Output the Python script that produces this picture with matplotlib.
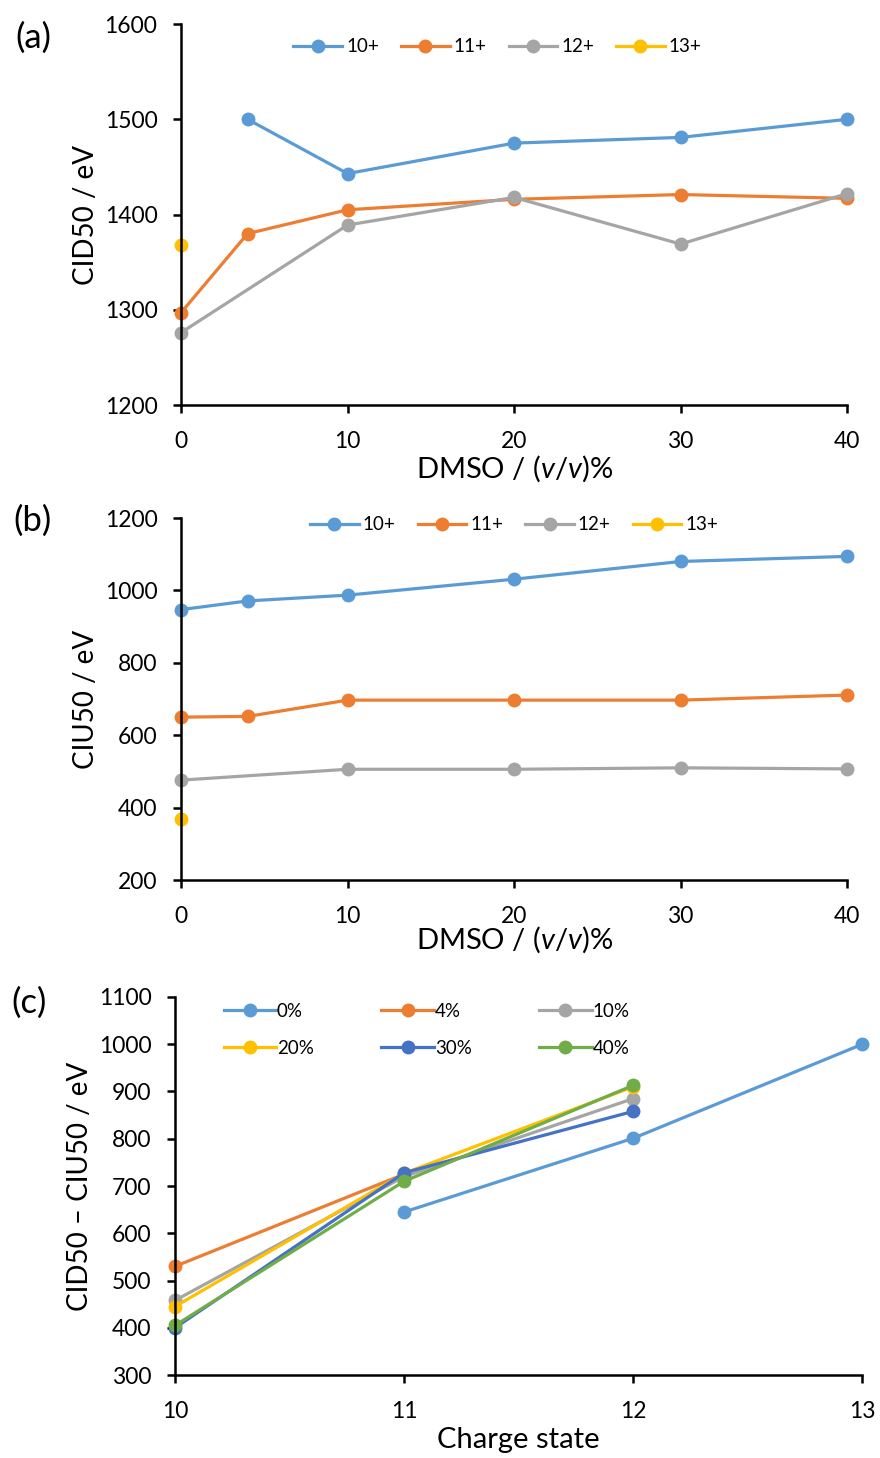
import matplotlib
matplotlib.use('Agg')
import matplotlib.pyplot as plt
from matplotlib import font_manager
import numpy as np

# Calibri-like font
installed = {f.name for f in font_manager.fontManager.ttflist}
FONT = 'Lato' if 'Lato' in installed else 'DejaVu Sans'

plt.rcParams['font.family'] = [FONT, 'DejaVu Sans']
plt.rcParams['mathtext.fontset'] = 'custom'
plt.rcParams['mathtext.it'] = FONT + ':italic'
plt.rcParams['mathtext.rm'] = FONT

# Excel-like colours
BLUE = '#5B9BD5'
ORANGE = '#ED7D31'
GRAY = '#A5A5A5'
YELLOW = '#FFC000'
DBLUE = '#4472C4'
GREEN = '#70AD47'

# Panel (a): CID50 vs DMSO
cid_x10 = [4, 10, 20, 30, 40]
cid_10 = [1500, 1443, 1475, 1481, 1500]
cid_x11 = [0, 4, 10, 20, 30, 40]
cid_11 = [1297, 1380, 1405, 1416, 1421, 1417]
cid_x12 = [0, 10, 20, 30, 40]
cid_12 = [1276, 1389, 1418, 1369, 1422]
cid_x13 = [0]
cid_13 = [1368]

# Panel (b): CIU50 vs DMSO
ciu_x10 = [0, 4, 10, 20, 30, 40]
ciu_10 = [947, 971, 987, 1031, 1080, 1094]
ciu_x11 = [0, 4, 10, 20, 30, 40]
ciu_11 = [650, 652, 697, 697, 697, 711]
ciu_x12 = [0, 10, 20, 30, 40]
ciu_12 = [476, 506, 506, 510, 507]
ciu_x13 = [0]
ciu_13 = [369]

# Panel (c): CID50 - CIU50 vs charge state
diff_x0 = [11, 12, 13]
diff_0 = [645, 801, 1000]
diff_x4 = [10, 11]
diff_4 = [530, 725]
diff_x10 = [10, 11, 12]
diff_10 = [458, 720, 885]
diff_x20 = [10, 11, 12]
diff_20 = [445, 727, 910]
diff_x30 = [10, 11, 12]
diff_30 = [400, 728, 858]
diff_x40 = [10, 11, 12]
diff_40 = [405, 710, 913]

LW = 2.3
MS = 9
TICK_FS = 16.5
LEG_FS = 13.5
XLAB_FS = 21
YLAB_FS = 20
PANEL_FS = 25

fig = plt.figure(figsize=(8.8, 14.58), dpi=100)


def style_axes(ax):
    for s in ['top', 'right']:
        ax.spines[s].set_visible(False)
    for s in ['left', 'bottom']:
        ax.spines[s].set_linewidth(1.8)
        ax.spines[s].set_color('black')
    ax.tick_params(direction='out', length=6, width=1.8, labelsize=TICK_FS)
    ax.tick_params(axis='x', pad=13)
    ax.tick_params(axis='y', pad=11)


def series(ax, x, y, color, label):
    return ax.plot(x, y, '-o', color=color, lw=LW, ms=MS, label=label)[0]


# (a)
ax1 = fig.add_axes([0.2057, 0.7222, 0.757, 0.2613])
series(ax1, cid_x10, cid_10, BLUE, '10+')
series(ax1, cid_x11, cid_11, ORANGE, '11+')
series(ax1, cid_x12, cid_12, GRAY, '12+')
series(ax1, cid_x13, cid_13, YELLOW, '13+')
ax1.set_xlim(0, 40)
ax1.set_ylim(1200, 1600)
ax1.set_xticks([0, 10, 20, 30, 40])
ax1.set_yticks([1200, 1300, 1400, 1500, 1600])
style_axes(ax1)
ax1.set_ylabel('CID50 / eV', fontsize=YLAB_FS, labelpad=4)
ax1.set_xlabel('DMSO / ($\\mathit{v/v}$)%', fontsize=XLAB_FS, labelpad=1)
ax1.legend(loc='upper center', bbox_to_anchor=(0.475, 1.007), ncol=4, frameon=False,
           fontsize=LEG_FS, handlelength=2.6, handletextpad=0.2, columnspacing=1.18)
fig.text(0.017, 0.974, '(a)', fontsize=PANEL_FS, va='center')

# (b)
ax2 = fig.add_axes([0.2057, 0.3964, 0.757, 0.2483])
series(ax2, ciu_x10, ciu_10, BLUE, '10+')
series(ax2, ciu_x11, ciu_11, ORANGE, '11+')
series(ax2, ciu_x12, ciu_12, GRAY, '12+')
series(ax2, ciu_x13, ciu_13, YELLOW, '13+')
ax2.set_xlim(0, 40)
ax2.set_ylim(200, 1200)
ax2.set_xticks([0, 10, 20, 30, 40])
ax2.set_yticks([200, 400, 600, 800, 1000, 1200])
style_axes(ax2)
ax2.set_ylabel('CIU50 / eV', fontsize=YLAB_FS, labelpad=4)
ax2.set_xlabel('DMSO / ($\\mathit{v/v}$)%', fontsize=XLAB_FS, labelpad=-2)
ax2.legend(loc='upper center', bbox_to_anchor=(0.50, 1.052), ncol=4, frameon=False,
           fontsize=LEG_FS, handlelength=2.6, handletextpad=0.2, columnspacing=1.18)
fig.text(0.015, 0.643, '(b)', fontsize=PANEL_FS, va='center')

# (c)
ax3 = fig.add_axes([0.1989, 0.0569, 0.781, 0.2593])
h0 = series(ax3, diff_x0, diff_0, BLUE, '0%')
h4 = series(ax3, diff_x4, diff_4, ORANGE, '4%')
h10 = series(ax3, diff_x10, diff_10, GRAY, '10%')
h20 = series(ax3, diff_x20, diff_20, YELLOW, '20%')
h30 = series(ax3, diff_x30, diff_30, DBLUE, '30%')
h40 = series(ax3, diff_x40, diff_40, GREEN, '40%')
ax3.set_xlim(10, 13)
ax3.set_ylim(300, 1100)
ax3.set_xticks([10, 11, 12, 13])
ax3.set_yticks(np.arange(300, 1101, 100))
style_axes(ax3)
ax3.set_ylabel('CID50 \u2013 CIU50 / eV', fontsize=YLAB_FS, labelpad=4)
ax3.set_xlabel('Charge state', fontsize=XLAB_FS, labelpad=3)
ax3.legend([h0, h20, h4, h30, h10, h40], ['0%', '20%', '4%', '30%', '10%', '40%'],
           loc='upper left', bbox_to_anchor=(0.046, 1.029), ncol=3, frameon=False,
           fontsize=LEG_FS, handlelength=2.8, handletextpad=0.05, columnspacing=3.6,
           labelspacing=1.07)
fig.text(0.013, 0.312, '(c)', fontsize=PANEL_FS, va='center')

for ax in (ax1, ax2, ax3):
    for line in ax.get_lines():
        line.set_clip_on(False)

fig.savefig('out.png', dpi=100)
